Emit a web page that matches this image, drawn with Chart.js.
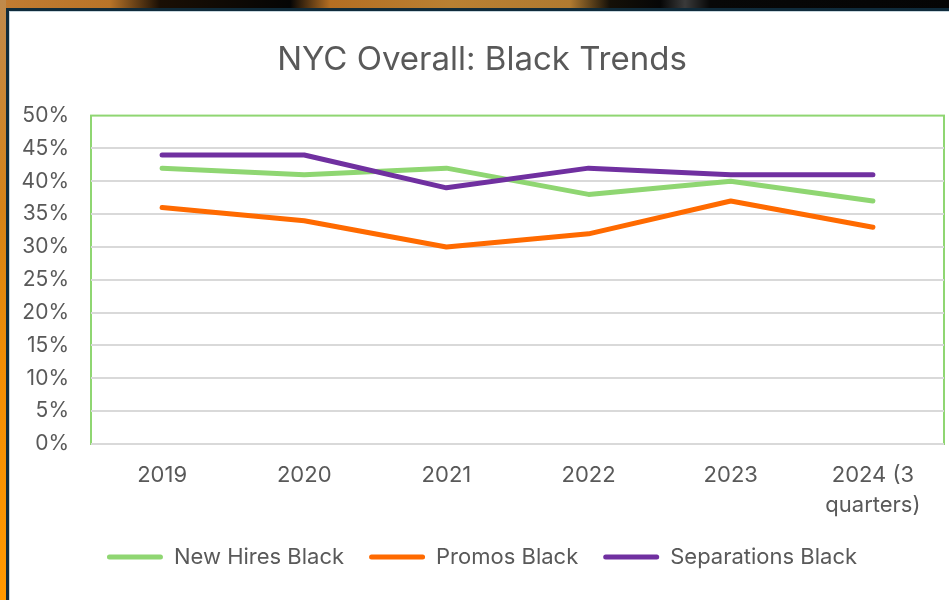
<!DOCTYPE html>
<html>
<head>
<meta charset="utf-8">
<title>NYC Overall: Black Trends</title>
<script src="https://cdn.jsdelivr.net/npm/chart.js@4.4.1/dist/chart.umd.min.js"></script>
<style>
  html, body { margin: 0; padding: 0; }
  body { width: 949px; height: 600px; overflow: hidden; position: relative; background: #fff; }
  /* slide frame around the chart */
  #topbar {
    position: absolute; left: 0; top: 0; width: 949px; height: 8px;
    background: linear-gradient(to right, #c27c32 0px, #b87428 110px, #1a0f05 160px, #050505 290px,
      #b46e22 330px, #b98032 450px, #b07a30 570px, #151008 610px, #060606 660px,
      #3a3a3a 685px, #080808 710px, #050505 949px);
  }
  #leftbar {
    position: absolute; left: 0; top: 0; width: 6px; height: 600px;
    background: linear-gradient(to bottom, #bf8a4c 0%, #d58418 35%, #f08e05 60%, #ff9a00 100%);
  }
  #panel {
    position: absolute; left: 6px; top: 8px; right: 0; bottom: 0;
    border-left: 3px solid #0f2b3b; border-top: 3px solid #0f2b3b;
    background: #fff; box-shadow: inset 1px 1px 0 #c9d7de;
  }
  #wrap { position: absolute; left: 0; top: 0; width: 949px; height: 620px; }
</style>
</head>
<body>
<div id="topbar"></div>
<div id="leftbar"></div>
<div id="panel"></div>
<div id="wrap"><canvas id="chart"></canvas></div>
<script>
// Share of Black employees by year (%)
const years = ['2019', '2020', '2021', '2022', '2023', ['2024 (3', 'quarters)']];
const newHiresBlack = [42, 41, 42, 38, 40, 37];
const promosBlack = [36, 34, 30, 32, 37, 33];
const separationsBlack = [44, 44, 39, 42, 41, 41];

const GREEN = '#8fd672';
const ORANGE = '#ff6a00';
const PURPLE = '#7030a0';
const TEXT = '#595959';
const FONT = "Inter, 'Open Sans', sans-serif";

// Green frame around the plot area, drawn under the grid
const plotFrame = {
    id: 'plotFrame',
    beforeDraw(chart) {
        const { ctx, chartArea: a } = chart;
        ctx.save();
        ctx.strokeStyle = GREEN;
        ctx.lineWidth = 2;
        ctx.strokeRect(a.left, a.top, a.right - a.left, a.bottom - a.top);
        ctx.restore();
    }
};

function series(label, data, color, order) {
    return {
        label,
        data,
        borderColor: color,
        backgroundColor: color,
        borderWidth: 5,
        borderCapStyle: 'round',
        borderJoinStyle: 'round',
        pointRadius: 0,
        pointHoverRadius: 0,
        tension: 0,
        order
    };
}

new Chart(document.getElementById('chart'), {
    type: 'line',
    data: {
        labels: years,
        datasets: [
            series('New Hires Black', newHiresBlack, GREEN, 3),
            series('Promos Black', promosBlack, ORANGE, 2),
            series('Separations Black', separationsBlack, PURPLE, 1)
        ]
    },
    options: {
        responsive: true,
        maintainAspectRatio: false,
        animation: false,
        layout: { padding: { left: 20, right: 5, top: 0, bottom: 42 } },
        scales: {
            x: {
                offset: true,
                grid: { display: false },
                border: { display: false },
                ticks: {
                    color: TEXT,
                    padding: 8,
                    maxRotation: 0,
                    font: { family: FONT, size: 22, lineHeight: 1.38 }
                },
                afterFit(scale) { scale.height = 77; }
            },
            y: {
                min: 0,
                max: 50,
                grid: {
                    color: ctx => ctx.tick && ctx.tick.value === 50 ? 'rgba(0,0,0,0)' : '#d9d9d9',
                    lineWidth: 2,
                    drawTicks: false
                },
                border: { display: false },
                ticks: {
                    stepSize: 5,
                    color: TEXT,
                    padding: 22,
                    font: { family: FONT, size: 21 },
                    callback: v => v + '%'
                },
                afterFit(scale) { scale.width = 71; }
            }
        },
        plugins: {
            title: {
                display: true,
                text: 'NYC Overall: Black Trends',
                color: TEXT,
                font: { family: FONT, size: 33, weight: 'normal' },
                padding: { top: 40, bottom: 36 }
            },
            legend: {
                position: 'bottom',
                labels: {
                    color: TEXT,
                    boxWidth: 56,
                    boxHeight: 5,
                    padding: 25,
                    font: { family: FONT, size: 22 },
                    sort: (a, b) => a.datasetIndex - b.datasetIndex,
                    generateLabels(chart) {
                        return Chart.defaults.plugins.legend.labels.generateLabels(chart).map(item => {
                            item.lineWidth = 0;
                            item.borderRadius = 2.5;
                            return item;
                        });
                    }
                }
            },
            tooltip: { enabled: false }
        }
    },
    plugins: [plotFrame]
});
</script>
</body>
</html>
